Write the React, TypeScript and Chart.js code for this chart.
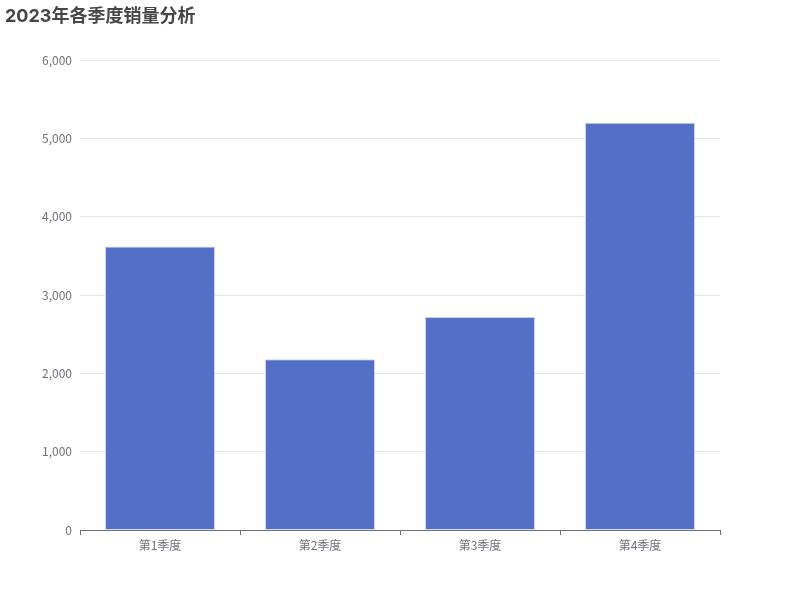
import React, { useEffect, useRef } from "react";
import { Chart, registerables } from "chart.js";

Chart.register(...registerables);

const TITLE = "2023年各季度销量分析";
const categories = ["第1季度", "第2季度", "第3季度", "第4季度"];
const sales = [3620, 2180, 2720, 5200];
const yMax = 6000;
const yStep = 1000;

const FONT = "'Noto Sans CJK SC', sans-serif";
const TITLE_FONT = "Inter, 'Noto Sans CJK SC', sans-serif";

const titlePlugin = {
  id: "customTitle",
  afterDraw(chart: any) {
    const ctx = chart.ctx;
    ctx.save();
    ctx.font = `bold 18px ${TITLE_FONT}`;
    ctx.fillStyle = "#464646";
    ctx.textBaseline = "alphabetic";
    ctx.textAlign = "left";
    ctx.fillText(TITLE, 5, 22);
    ctx.restore();
  },
};

export default function App() {
  const ref = useRef<HTMLCanvasElement | null>(null);
  useEffect(() => {
    if (!ref.current) return;
    const chart = new Chart(ref.current, {
      type: "bar",
      data: {
        labels: categories,
        datasets: [
          {
            data: sales,
            backgroundColor: "#5470c6",
            borderColor: "#c9d3f0",
            borderWidth: 1,
            categoryPercentage: 1,
            barPercentage: 0.6875,
          },
        ],
      },
      options: {
        animation: false,
        responsive: false,
        devicePixelRatio: 1,
        layout: { padding: { left: 0, right: 80, top: 60, bottom: 0 } },
        plugins: {
          legend: { display: false },
          title: { display: false },
          tooltip: { enabled: false },
        },
        scales: {
          x: {
            offset: true,
            grid: {
              offset: true,
              drawOnChartArea: false,
              drawTicks: true,
              tickLength: 5,
              color: "#6e7079",
            },
            border: { display: true, color: "#6e7079", width: 1 },
            ticks: {
              color: "#6e7079",
              font: { family: FONT, size: 12 },
              padding: 3,
            },
            afterFit(scale: any) {
              scale.height = 70;
            },
          },
          y: {
            min: 0,
            max: yMax,
            ticks: {
              stepSize: yStep,
              color: "#6e7079",
              font: { family: FONT, size: 12 },
              padding: 8,
              callback: (v: any) => Number(v).toLocaleString("en-US"),
            },
            grid: { color: "#e0e6f1", drawTicks: false },
            border: { display: false },
            afterFit(scale: any) {
              scale.width = 80;
            },
          },
        },
      },
      plugins: [titlePlugin],
    });
    return () => chart.destroy();
  }, []);
  return (
    <div style={{ position: "fixed", left: 0, top: 0, width: 800, height: 600, background: "#fff" }}>
      <canvas ref={ref} width={800} height={600} style={{ width: 800, height: 600 }} />
    </div>
  );
}
